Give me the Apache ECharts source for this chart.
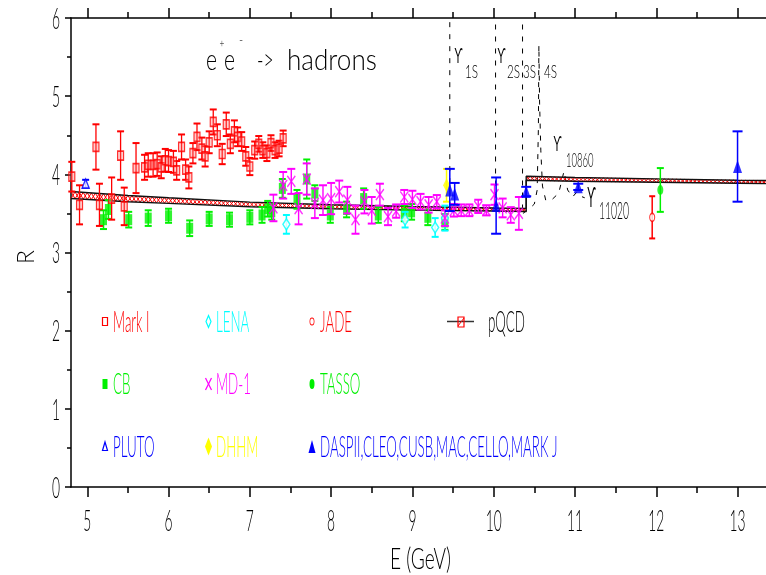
<!DOCTYPE html>
<html>
<head>
<meta charset="utf-8">
<script src="https://cdn.jsdelivr.net/npm/echarts@6/dist/echarts.min.js"></script>
<style>
  html, body { margin: 0; padding: 0; background: #fff; }
  #chart { width: 766px; height: 575px; }
</style>
</head>
<body>
<div id="chart"></div>
<script>
// ---- Measurements of R = sigma(e+e- -> hadrons) / sigma(e+e- -> mu+mu-) ----
// Mark I
const markE = [4.81, 4.905, 5.107, 5.15, 5.30, 5.41, 5.455, 5.60, 5.705, 5.75, 5.81, 5.86, 5.91, 5.96, 6.00, 6.06, 6.10, 6.16, 6.21, 6.25, 6.30, 6.35, 6.41, 6.45, 6.50, 6.55, 6.60, 6.66, 6.71, 6.76, 6.81, 6.85, 6.90, 6.95, 7.00, 7.06, 7.11, 7.16, 7.21, 7.26, 7.31, 7.36, 7.41];
const markR = [3.97, 3.61, 4.35, 3.61, 3.69, 4.24, 3.59, 4.08, 4.09, 4.12, 4.12, 4.13, 4.09, 4.18, 4.17, 4.16, 4.05, 4.35, 4.06, 3.96, 4.27, 4.48, 4.33, 4.23, 4.41, 4.67, 4.50, 4.26, 4.64, 4.39, 4.55, 4.48, 4.42, 4.23, 4.10, 4.31, 4.39, 4.31, 4.27, 4.40, 4.31, 4.33, 4.46];
const markErr = [0.19, 0.25, 0.29, 0.27, 0.27, 0.31, 0.24, 0.32, 0.16, 0.15, 0.15, 0.15, 0.14, 0.145, 0.14, 0.14, 0.12, 0.16, 0.13, 0.14, 0.13, 0.17, 0.14, 0.13, 0.14, 0.16, 0.14, 0.13, 0.15, 0.12, 0.14, 0.12, 0.12, 0.12, 0.11, 0.11, 0.10, 0.10, 0.10, 0.10, 0.10, 0.10, 0.10];

// Crystal Ball
const cbE = [5.20, 5.26, 5.51, 5.75, 6.00, 6.26, 6.50, 6.75, 7.00, 7.15, 7.22, 7.27, 7.40, 7.58, 7.70, 7.80, 7.99, 8.19, 8.40, 8.58, 8.90, 8.99, 9.19, 9.40];
const cbR = [3.42, 3.55, 3.42, 3.44, 3.47, 3.31, 3.43, 3.42, 3.45, 3.48, 3.56, 3.52, 3.82, 3.68, 3.94, 3.76, 3.48, 3.55, 3.69, 3.48, 3.50, 3.52, 3.45, 3.39];
const cbErr = [0.12, 0.12, 0.10, 0.10, 0.09, 0.10, 0.09, 0.09, 0.09, 0.10, 0.10, 0.10, 0.12, 0.12, 0.25, 0.10, 0.10, 0.10, 0.13, 0.10, 0.10, 0.10, 0.10, 0.10];

// LENA
const lenaE = [7.45, 8.91, 9.28, 9.40];
const lenaR = [3.36, 3.42, 3.32, 3.44];
const lenaErr = [0.12, 0.10, 0.12, 0.16];

// MD-1
const mdE = [7.29, 7.41, 7.51, 7.60, 7.70, 7.80, 7.90, 8.00, 8.10, 8.20, 8.30, 8.41, 8.50, 8.60, 8.70, 8.80, 8.90, 9.00, 9.10, 9.20, 9.30, 9.40, 9.51, 9.60, 9.70, 9.81, 9.91, 10.01, 10.11, 10.21, 10.31];
const mdR = [3.57, 3.86, 3.91, 3.56, 3.94, 3.63, 3.67, 3.69, 3.78, 3.67, 3.42, 3.65, 3.54, 3.74, 3.46, 3.53, 3.71, 3.68, 3.65, 3.61, 3.65, 3.44, 3.54, 3.54, 3.54, 3.59, 3.54, 3.74, 3.57, 3.48, 3.50];
const mdErr = [0.17, 0.17, 0.16, 0.20, 0.20, 0.19, 0.19, 0.20, 0.14, 0.17, 0.18, 0.15, 0.17, 0.14, 0.11, 0.085, 0.09, 0.11, 0.10, 0.10, 0.085, 0.10, 0.08, 0.075, 0.075, 0.085, 0.065, 0.13, 0.12, 0.10, 0.21];

// JADE, TASSO, PLUTO, DHHM
const jadeE = [11.95], jadeR = [3.45], jadeErr = [0.27];
const tassoE = [12.05], tassoR = [3.80], tassoErr = [0.28];
const plutoE = [4.98], plutoR = [3.88], plutoErr = [0.05];
const dhhmE = [9.42], dhhmR = [3.86], dhhmErr = [0.21];

// DASP II, CLEO, CUSB, MAC, CELLO, MARK J
const daspE = [9.46, 9.52, 10.03, 10.40, 11.04, 13.00];
const daspR = [3.80, 3.75, 3.60, 3.78, 3.84, 4.10];
const daspErr = [0.27, 0.14, 0.36, 0.06, 0.04, 0.45];

// Perturbative QCD band (centre and half width), below and above the b threshold
const pqLowE = [4.8, 5.5, 6.0, 7.0, 8.0, 9.0, 10.0, 10.4];
const pqLowMid = [3.735, 3.69, 3.665, 3.615, 3.585, 3.565, 3.55, 3.545];
const pqLowHalf = [0.045, 0.04, 0.036, 0.03, 0.026, 0.023, 0.02, 0.02];
const pqHighE = [10.4, 11.0, 12.0, 13.0, 13.4];
const pqHighMid = [3.95, 3.935, 3.92, 3.905, 3.90];
const pqHighHalf = [0.025, 0.024, 0.022, 0.02, 0.02];

// Upsilon resonances (dashed)
const ups1SE = [9.46, 9.46], ups1SR = [3.58, 6.0];
const ups2SE = [10.023, 10.023], ups2SR = [3.55, 6.0];
const ups3SE = [10.355, 10.355], ups3SR = [3.55, 6.0];
const upsHighE = [10.36, 10.44, 10.50, 10.535, 10.55, 10.556, 10.565, 10.58, 10.60, 10.64, 10.72, 10.80, 10.865, 10.91, 10.97, 11.02, 11.07, 11.12];
const upsHighR = [3.50, 3.56, 3.62, 3.80, 4.60, 5.65, 4.90, 4.30, 3.85, 3.67, 3.68, 3.76, 4.04, 3.80, 3.71, 3.77, 3.72, 3.70];

// Axis ticks and tick labels
const X_MIN = 4.8, X_MAX = 13.35;
const xMajor = [5, 6, 7, 8, 9, 10, 11, 12, 13];
const xMinor = [5.5, 6.5, 7.5, 8.5, 9.5, 10.5, 11.5, 12.5];
const yMajor = [0, 1, 2, 3, 4, 5, 6];

const FONT = "Lato, 'DejaVu Sans', sans-serif";
const RED = '#ff0000', GREEN = '#00f000', CYAN = '#00ffff', MAGENTA = '#ff00ff', BLUE = '#0000ff', YELLOW = '#ffff00';

const pairs = (E, R) => E.map((e, i) => [e, R[i]]);
const triples = (E, R, D) => E.map((e, i) => [e, R[i], D[i]]);

function errorBars(E, R, D, color, capW, lw, z) {
  return {
    type: 'custom', silent: true, clip: false, z: z,
    data: triples(E, R, D), encode: { x: 0, y: 1 },
    renderItem: function (params, api) {
      const x = api.value(0), y = api.value(1), d = api.value(2);
      const hi = api.coord([x, y + d]), lo = api.coord([x, y - d]);
      const h = capW / 2;
      return { type: 'group', children: [
        { type: 'line', shape: { x1: hi[0], y1: hi[1], x2: lo[0], y2: lo[1] }, style: { stroke: color, lineWidth: lw } },
        { type: 'line', shape: { x1: hi[0] - h, y1: hi[1], x2: hi[0] + h, y2: hi[1] }, style: { stroke: color, lineWidth: 2 } },
        { type: 'line', shape: { x1: lo[0] - h, y1: lo[1], x2: lo[0] + h, y2: lo[1] }, style: { stroke: color, lineWidth: 2 } }
      ]};
    }
  };
}

function points(E, R, symbol, size, itemStyle, z) {
  return { type: 'scatter', silent: true, z: z, data: pairs(E, R), symbol: symbol, symbolSize: size, itemStyle: itemStyle };
}

function bandEdge(E, mid, half, sign) {
  return E.map((e, i) => [e, mid[i] + sign * half[i]]);
}

function bandSegments(E, mid, half) {
  const out = [];
  for (let i = 0; i < E.length - 1; i++) {
    out.push([E[i], mid[i] - half[i], mid[i] + half[i], E[i + 1], mid[i + 1] - half[i + 1], mid[i + 1] + half[i + 1]]);
  }
  return out;
}

const lowerEdge = bandEdge(pqLowE, pqLowMid, pqLowHalf, -1).concat(bandEdge(pqHighE, pqHighMid, pqHighHalf, -1));
const upperEdge = bandEdge(pqLowE, pqLowMid, pqLowHalf, 1).concat(bandEdge(pqHighE, pqHighMid, pqHighHalf, 1));
const hatchData = bandSegments(pqLowE, pqLowMid, pqLowHalf).concat(bandSegments(pqHighE, pqHighMid, pqHighHalf));

function textStyle(text, size, color, align, family) {
  return { text: text, fontSize: size, fontFamily: family || FONT, fontWeight: 300, fill: color,
           align: align, textAlign: align, verticalAlign: 'middle', textVerticalAlign: 'middle' };
}

function txt(text, x, y, size, sx, color, align, extra, family) {
  return Object.assign({ type: 'text', x: x, y: y, scaleX: sx, silent: true, z: 50,
    style: textStyle(text, size, color, align || 'left', family) }, extra || {});
}

const dashLine = (E, R) => ({
  type: 'line', silent: true, z: 1, data: pairs(E, R), showSymbol: false, symbol: 'none',
  lineStyle: { color: '#000', width: 1, type: [5, 7] }
});

const xAxisBase = (pos, ticks, len, showLine) => ({
  type: 'value', min: X_MIN, max: X_MAX, position: pos,
  axisLine: { show: showLine, onZero: false, lineStyle: { color: '#000', width: 1.5 } },
  axisTick: { show: true, customValues: ticks, length: len, inside: false, lineStyle: { color: '#000', width: 1.5 } },
  axisLabel: { show: false }, splitLine: { show: false }
});

// Legend, drawn as graphic items
const LG = { c1: 105, c2: 208.5, c3: 312, r1: 321.5, r2: 384, r3: 446.5 };
const LSIZE = 29, LSX = 0.46;
const legendItems = [
  { type: 'rect', shape: { x: LG.c1 - 2.5, y: LG.r1 - 4, width: 5, height: 8 }, style: { fill: 'none', stroke: RED, lineWidth: 1.2 } },
  txt('Mark I', 113, LG.r1 + 1, LSIZE, LSX, RED),
  { type: 'polygon', shape: { points: [[LG.c2, LG.r1 - 6], [LG.c2 + 2.5, LG.r1], [LG.c2, LG.r1 + 6], [LG.c2 - 2.5, LG.r1]] }, style: { fill: 'none', stroke: CYAN, lineWidth: 1.2 } },
  txt('LENA', 216, LG.r1 + 1, LSIZE, LSX, CYAN),
  { type: 'circle', x: LG.c3, y: LG.r1, scaleX: 0.6, shape: { cx: 0, cy: 0, r: 3.5 }, style: { fill: 'none', stroke: RED, lineWidth: 1.2 } },
  txt('JADE', 320, LG.r1 + 1, LSIZE, LSX, RED),
  { type: 'line', shape: { x1: 447, y1: LG.r1, x2: 474, y2: LG.r1 }, style: { stroke: '#333', lineWidth: 1.5 } },
  { type: 'rect', shape: { x: 458, y: 317, width: 6, height: 10 }, style: { fill: 'none', stroke: RED, lineWidth: 1.2 } },
  { type: 'line', shape: { x1: 458, y1: 326, x2: 464, y2: 318 }, style: { stroke: RED, lineWidth: 1 } },
  txt('pQCD', 488, LG.r1 + 1, LSIZE, LSX, '#000'),

  { type: 'rect', shape: { x: LG.c1 - 2.5, y: LG.r2 - 5, width: 5, height: 10 }, style: { fill: GREEN } },
  txt('CB', 113, LG.r2 + 1, LSIZE, LSX, GREEN),
  { type: 'line', shape: { x1: LG.c2 - 3, y1: LG.r2 - 6, x2: LG.c2 + 3, y2: LG.r2 + 6 }, style: { stroke: MAGENTA, lineWidth: 1.2 } },
  { type: 'line', shape: { x1: LG.c2 + 3, y1: LG.r2 - 6, x2: LG.c2 - 3, y2: LG.r2 + 6 }, style: { stroke: MAGENTA, lineWidth: 1.2 } },
  txt('MD-1', 216, LG.r2 + 1, LSIZE, LSX, MAGENTA),
  { type: 'circle', x: LG.c3, y: LG.r2, scaleX: 0.5, shape: { cx: 0, cy: 0, r: 5 }, style: { fill: GREEN } },
  txt('TASSO', 320, LG.r2 + 1, LSIZE, LSX, GREEN),

  { type: 'polygon', shape: { points: [[LG.c1, LG.r3 - 4.5], [LG.c1 + 2.5, LG.r3 + 4], [LG.c1 - 2.5, LG.r3 + 4]] }, style: { fill: 'none', stroke: BLUE, lineWidth: 1.2 } },
  txt('PLUTO', 113, LG.r3 + 1, LSIZE, LSX, BLUE),
  { type: 'polygon', shape: { points: [[LG.c2, LG.r3 - 9], [LG.c2 + 3.5, LG.r3], [LG.c2, LG.r3 + 9], [LG.c2 - 3.5, LG.r3]] }, style: { fill: YELLOW } },
  txt('DHHM', 216, LG.r3 + 1, LSIZE, LSX, YELLOW),
  { type: 'polygon', shape: { points: [[LG.c3, LG.r3 - 6.5], [LG.c3 + 3.5, LG.r3 + 6.5], [LG.c3 - 3.5, LG.r3 + 6.5]] }, style: { fill: BLUE } },
  txt('DASPII,CLEO,CUSB,MAC,CELLO,MARK J', 320, LG.r3 + 1, LSIZE, LSX, BLUE)
];

// Process label and resonance names
const UPS = "'DejaVu Sans', sans-serif";
const annotations = [
  txt('e', 206, 61, 29, 0.73, '#000'),
  txt('+', 222, 43, 12, 0.7, '#000', 'center'),
  txt('e', 224, 61, 29, 0.73, '#000'),
  txt('-', 241, 40, 14, 0.8, '#000', 'center'),
  txt('->', 257, 61, 29, 0.6, '#000'),
  txt('hadrons', 287, 61, 29, 0.9, '#000'),
  txt('\u03d2', 458.5, 57, 22, 0.5, '#000', 'center', null, UPS),
  txt('1S', 465, 72, 18, 0.65, '#000'),
  txt('\u03d2', 501.5, 57, 22, 0.5, '#000', 'center', null, UPS),
  txt('2S', 507, 72, 18, 0.65, '#000'),
  txt('3S', 523, 72, 18, 0.65, '#000'),
  txt('4S', 544, 72, 18, 0.65, '#000'),
  txt('\u03d2', 557.5, 145, 22, 0.5, '#000', 'center', null, UPS),
  txt('10860', 566, 161, 19, 0.5, '#000'),
  txt('\u03d2', 591.5, 199, 29, 0.4, '#000', 'center', null, UPS),
  txt('11020', 599, 212, 23, 0.45, '#000'),
  txt('E (GeV)', 390, 560, 29, 0.66, '#000'),
  txt('R', 26.5, 257, 23, 1, '#000', 'center', { rotation: Math.PI / 2 })
];

const tickText = (isX) => ({
  type: 'custom', silent: true, clip: false, z: 20,
  data: isX ? xMajor.map(v => [v, 0]) : yMajor.map(v => [X_MIN, v]),
  encode: { x: 0, y: 1 },
  renderItem: function (params, api) {
    const v = isX ? api.value(0) : api.value(1);
    const c = api.coord([api.value(0), api.value(1)]);
    return { type: 'text', x: isX ? c[0] : c[0] - 15, y: isX ? c[1] + 34 : c[1] + 1, scaleX: 0.46,
             style: textStyle(String(v), 30, '#000', 'center') };
  }
});

const chart = echarts.init(document.getElementById('chart'), null, { renderer: 'canvas' });
chart.setOption({
  animation: false,
  backgroundColor: '#fff',
  textStyle: { fontFamily: FONT },
  grid: { left: 71, right: 0, top: 18, bottom: 88, containLabel: false },
  xAxis: [
    xAxisBase('bottom', xMajor, 10, true),
    xAxisBase('top', xMajor, 10, true),
    xAxisBase('bottom', xMinor, 6, false),
    xAxisBase('top', xMinor, 6, false)
  ],
  yAxis: {
    type: 'value', min: 0, max: 6, interval: 1,
    axisLine: { show: true, onZero: false, lineStyle: { color: '#000', width: 1.5 } },
    axisTick: { show: true, length: 6, lineStyle: { color: '#000', width: 1.5 } },
    minorTick: { show: true, splitNumber: 2, length: 4, lineStyle: { color: '#000', width: 1.5 } },
    axisLabel: { show: false }, splitLine: { show: false }, minorSplitLine: { show: false }
  },
  graphic: { elements: legendItems.map(e => Object.assign({ silent: true, z: 50 }, e)).concat(annotations) },
  series: [
    dashLine(ups1SE, ups1SR),
    dashLine(ups2SE, ups2SR),
    dashLine(ups3SE, ups3SR),
    dashLine(upsHighE, upsHighR),
    // pQCD band: hatching and edges
    {
      type: 'custom', silent: true, z: 2, data: hatchData, encode: { x: [0, 3], y: [1, 2, 4, 5] },
      renderItem: function (params, api) {
        const a0 = api.coord([api.value(0), api.value(1)]), b0 = api.coord([api.value(0), api.value(2)]);
        const a1 = api.coord([api.value(3), api.value(4)]), b1 = api.coord([api.value(3), api.value(5)]);
        const n = Math.max(2, Math.round((a1[0] - a0[0]) / 4));
        const pa = [], pb = [];
        for (let k = 0; k <= n; k++) {
          const t = k / n, x = a0[0] + t * (a1[0] - a0[0]);
          const yl = a0[1] + t * (a1[1] - a0[1]), yh = b0[1] + t * (b1[1] - b0[1]);
          pa.push([x, k % 2 ? yh : yl]);
          pb.push([x, k % 2 ? yl : yh]);
        }
        return { type: 'group', children: [
          { type: 'polyline', shape: { points: pa }, style: { stroke: RED, lineWidth: 1, fill: 'none' } },
          { type: 'polyline', shape: { points: pb }, style: { stroke: RED, lineWidth: 1, fill: 'none' } }
        ]};
      }
    },
    { type: 'line', silent: true, z: 3, data: lowerEdge, symbol: 'none', lineStyle: { color: '#111', width: 1.4 } },
    { type: 'line', silent: true, z: 3, data: upperEdge, symbol: 'none', lineStyle: { color: '#111', width: 1.4 } },

    errorBars(cbE, cbR, cbErr, GREEN, 7, 1.5, 4),
    points(cbE, cbR, 'rect', [7, 11], { color: GREEN }, 5),
    errorBars(lenaE, lenaR, lenaErr, CYAN, 7, 1.5, 6),
    points(lenaE, lenaR, 'diamond', [7, 11], { color: '#fff', borderColor: CYAN, borderWidth: 1.5 }, 7),
    errorBars(markE, markR, markErr, RED, 7, 1.3, 8),
    points(markE, markR, 'rect', [6, 9], { color: 'rgba(255,120,120,0.45)', borderColor: RED, borderWidth: 1.4 }, 9),
    errorBars(mdE, mdR, mdErr, MAGENTA, 8, 1.4, 10),
    points(mdE, mdR, 'path://M0,0L8,11M8,0L0,11', [8, 11], { color: 'none', borderColor: MAGENTA, borderWidth: 1.5 }, 11),
    errorBars(jadeE, jadeR, jadeErr, RED, 6, 1.5, 12),
    points(jadeE, jadeR, 'circle', [5, 8], { color: '#fff', borderColor: RED, borderWidth: 1.3 }, 13),
    errorBars(tassoE, tassoR, tassoErr, GREEN, 7, 1.5, 12),
    points(tassoE, tassoR, 'circle', [6, 10], { color: GREEN }, 13),
    errorBars(dhhmE, dhhmR, dhhmErr, YELLOW, 7, 1.5, 12),
    points(dhhmE, dhhmR, 'diamond', [7, 14], { color: YELLOW }, 13),
    errorBars(plutoE, plutoR, plutoErr, BLUE, 7, 1.5, 14),
    points(plutoE, plutoR, 'triangle', [7, 9], { color: '#fff', borderColor: BLUE, borderWidth: 1.5 }, 15),
    errorBars(daspE, daspR, daspErr, BLUE, 10, 1.5, 14),
    points(daspE, daspR, 'triangle', [9, 13], { color: BLUE }, 15),

    tickText(true),
    tickText(false)
  ]
});
</script>
</body>
</html>
